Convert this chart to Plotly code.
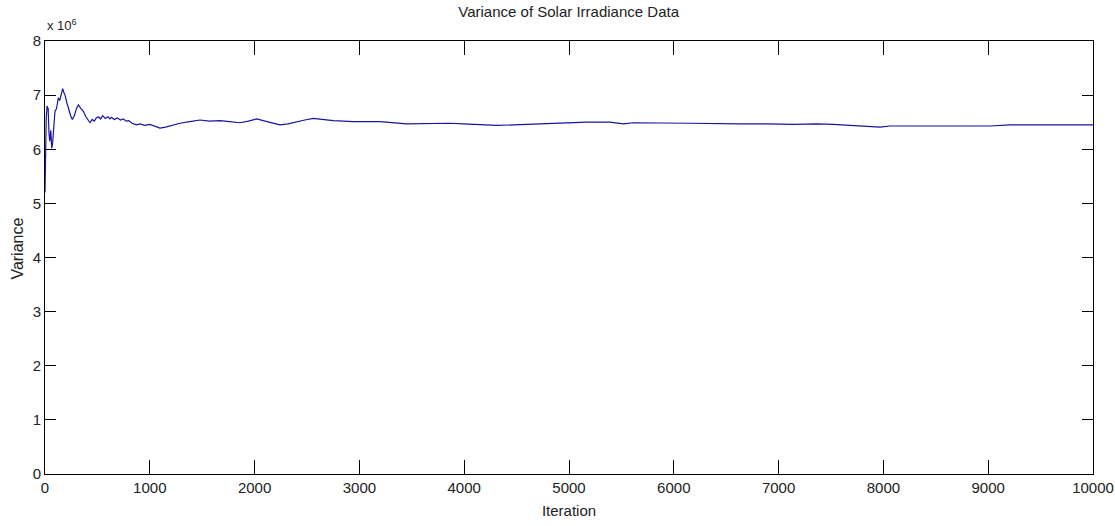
import plotly.graph_objects as go

# Iteration index and variance (in units of 1e6)
iteration = [0, 5, 12, 20, 30, 38, 45, 55, 64, 72, 80, 95, 110, 127, 140, 155, 169, 180, 191,
             210, 230, 245, 261, 280, 300, 318, 340, 366, 390, 410, 430, 450, 470, 490, 509,
             530, 550, 575, 600, 620, 636, 660, 690, 720, 747, 775, 800, 830, 855, 875, 906,
             950, 1002, 1050, 1097, 1150, 1200, 1288, 1380, 1479, 1570, 1670, 1760, 1861,
             1940, 2020, 2100, 2195, 2242, 2320, 2401, 2480, 2560, 2650, 2750, 2940, 3196,
             3451, 3642, 3865, 3992, 4150, 4310, 4470, 4628, 4800, 4946, 5169, 5391, 5518,
             5611, 5900, 6154, 6632, 6823, 6886, 7140, 7363, 7522, 7777, 7968, 8063, 8635,
             9017, 9208, 10000]
variance = [5.20, 6.00, 6.60, 6.80, 6.75, 6.30, 6.15, 6.35, 6.02, 6.10, 6.40, 6.70, 6.75, 6.95,
            6.90, 7.05, 7.12, 7.05, 7.00, 6.85, 6.70, 6.62, 6.55, 6.62, 6.75, 6.82, 6.76, 6.70,
            6.60, 6.55, 6.49, 6.55, 6.52, 6.58, 6.60, 6.56, 6.62, 6.57, 6.60, 6.56, 6.59, 6.55,
            6.58, 6.54, 6.56, 6.52, 6.53, 6.48, 6.47, 6.45, 6.47, 6.44, 6.46, 6.42, 6.39, 6.41,
            6.44, 6.48, 6.51, 6.54, 6.52, 6.53, 6.51, 6.49, 6.52, 6.56, 6.52, 6.47, 6.45, 6.47,
            6.51, 6.54, 6.57, 6.55, 6.53, 6.51, 6.51, 6.47, 6.48, 6.48, 6.47, 6.46, 6.44, 6.45,
            6.46, 6.48, 6.49, 6.50, 6.50, 6.47, 6.49, 6.48, 6.48, 6.47, 6.46, 6.47, 6.46, 6.47,
            6.46, 6.43, 6.41, 6.43, 6.43, 6.43, 6.45, 6.45]

x_ticks = [0, 1000, 2000, 3000, 4000, 5000, 6000, 7000, 8000, 9000, 10000]
y_ticks = [0, 1, 2, 3, 4, 5, 6, 7, 8]

FONT = "Liberation Sans Narrow, Arial Narrow, Liberation Sans, Arial, sans-serif"
TXT = "#222222"

fig = go.Figure()
fig.add_trace(go.Scatter(x=iteration, y=variance, mode="lines",
                         line=dict(color="#1515a0", width=1.2), showlegend=False))

axis_common = dict(showgrid=False, zeroline=False, showline=True, linecolor="black",
                   linewidth=1, mirror="ticks", ticks="inside", tickcolor="black",
                   tickwidth=1, automargin=False,
                   tickfont=dict(family=FONT, size=15, color=TXT))

fig.update_layout(
    width=1115, height=526,
    margin=dict(l=45, r=22, t=41, b=52),
    paper_bgcolor="white", plot_bgcolor="white",
    font=dict(family=FONT, color=TXT),
    title=dict(text="Variance of Solar Irradiance Data", x=0.51, xanchor="center",
               y=0.977, yanchor="middle", font=dict(family=FONT, size=15, color=TXT)),
    xaxis=dict(range=[0, 10000], tickvals=x_ticks, ticktext=[str(v) for v in x_ticks],
               ticklen=14, title=dict(text="Iteration", font=dict(family=FONT, size=15, color=TXT),
                                      standoff=10), **axis_common),
    yaxis=dict(range=[0, 8], tickvals=y_ticks, ticktext=[str(v) for v in y_ticks],
               ticklen=11, **axis_common),
)

fig.add_annotation(text="Variance", textangle=-90, xref="paper", yref="paper",
                   x=-0.026, y=0.52, xanchor="center", yanchor="middle", showarrow=False,
                   font=dict(family=FONT, size=16, color=TXT))
fig.add_annotation(text="x 10<sup>6</sup>", xref="paper", yref="paper",
                   x=0.0, y=1.0, xanchor="left", yanchor="bottom", yshift=6, showarrow=False,
                   font=dict(family=FONT, size=13, color=TXT))

fig.write_html("out.html")
